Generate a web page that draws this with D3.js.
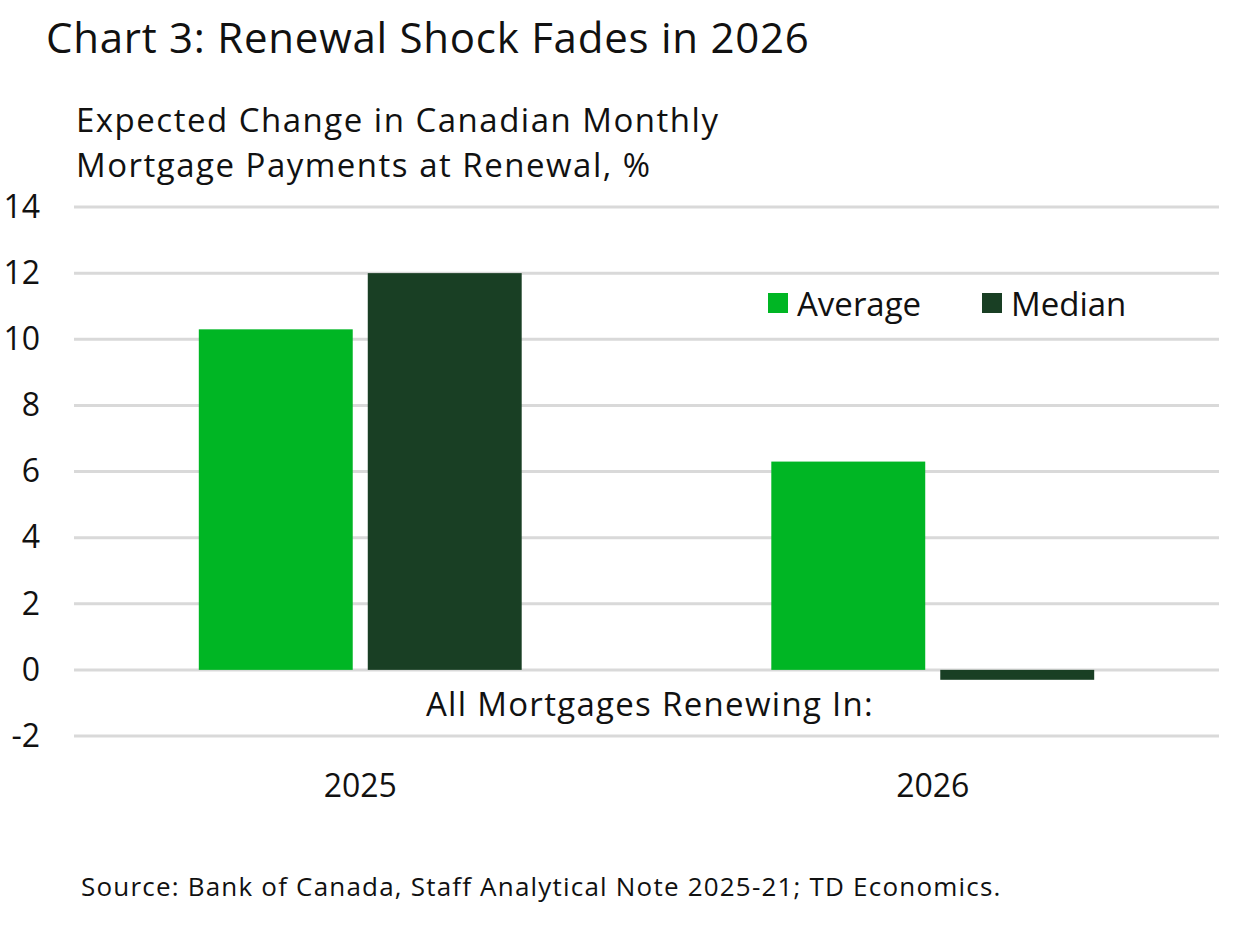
<!DOCTYPE html>
<html>
<head>
<meta charset="utf-8">
<script src="https://cdn.jsdelivr.net/npm/d3@7"></script>
<style>
  body { margin: 0; background: #fff; }
  text { font-family: "Open Sans", Roboto, sans-serif; fill: #111; }
</style>
</head>
<body>
<div id="chart"></div>
<script>
var width = 1240
var height = 925
var margin = { top: 207, bottom: 189, left: 74, right: 21 };

// data
var categories = ["2025", "2026"];
var seriesNames = ["Average", "Median"];
var averageValues = [10.3, 6.3];
var medianValues = [12.0, -0.3];
var yTicks = [-2, 0, 2, 4, 6, 8, 10, 12, 14];

var colors = { Average: "#00b624", Median: "#193f24" };

var rows = categories.map(function(c, i) {
    return { cat: c, Average: averageValues[i], Median: medianValues[i] };
});

var svg = d3.select("#chart").append("svg")
    .attr("width", width)
    .attr("height", height);

var x0 = d3.scaleBand()
    .domain(categories)
    .range([margin.left, width - margin.right])
    .paddingInner(0.436)
    .paddingOuter(0.218);

var x1 = d3.scaleBand()
    .domain(seriesNames)
    .range([0, x0.bandwidth()])
    .paddingInner(0.089);

var y = d3.scaleLinear()
    .domain([-2, 14])
    .range([height - margin.bottom, margin.top]);

// gridlines
svg.append("g")
    .selectAll("line")
    .data(yTicks)
    .join("line")
    .attr("x1", margin.left)
    .attr("x2", width - margin.right)
    .attr("y1", function(d) { return y(d); })
    .attr("y2", function(d) { return y(d); })
    .attr("stroke", "#d9d9d9")
    .attr("stroke-width", 3);

// y axis labels
var yAxis = svg.append("g")
    .attr("transform", "translate(" + margin.left + ",0)")
    .call(d3.axisLeft(y).tickValues(yTicks).tickSize(0).tickPadding(34)
        .tickFormat(function(d) { return String(d); }));
yAxis.select(".domain").remove();
yAxis.selectAll("text")
    .style("font-family", "'Open Sans', sans-serif")
    .style("font-size", "32px")
    .attr("fill", "#111");

// bars
svg.append("g")
    .selectAll("g")
    .data(rows)
    .join("g")
    .attr("transform", function(d) { return "translate(" + x0(d.cat) + ",0)"; })
    .selectAll("rect")
    .data(function(d) { return seriesNames.map(function(s) { return { key: s, value: d[s] }; }); })
    .join("rect")
    .attr("x", function(d) { return x1(d.key); })
    .attr("width", x1.bandwidth())
    .attr("y", function(d) { return y(Math.max(0, d.value)); })
    .attr("height", function(d) { return Math.abs(y(d.value) - y(0)); })
    .attr("fill", function(d) { return colors[d.key]; });

// x axis labels
var xAxis = svg.append("g")
    .attr("transform", "translate(0," + y(-2) + ")")
    .call(d3.axisBottom(x0).tickSize(0).tickPadding(38));
xAxis.select(".domain").remove();
xAxis.selectAll("text")
    .style("font-family", "'Open Sans', sans-serif")
    .style("font-size", "32px")
    .attr("fill", "#111");

svg.append("text")
    .attr("x", 650)
    .attr("y", 716)
    .attr("text-anchor", "middle")
    .style("font-size", "33px")
    .style("letter-spacing", "1.3px")
    .text("All Mortgages Renewing In:");

// legend
var legend = svg.append("g")
    .attr("transform", "translate(768,293)");
var legendX = [0, 214];
seriesNames.forEach(function(s, i) {
    legend.append("rect")
        .attr("x", legendX[i])
        .attr("y", 0)
        .attr("width", 20)
        .attr("height", 20)
        .attr("fill", colors[s]);
    legend.append("text")
        .attr("x", legendX[i] + 29)
        .attr("y", 23)
        .style("font-size", "33px")
        .text(s);
});

// titles
svg.append("text")
    .attr("x", 46)
    .attr("y", 53)
    .style("font-size", "42px")
    .style("letter-spacing", "0.75px")
    .text("Chart 3: Renewal Shock Fades in 2026");

svg.append("text")
    .attr("x", 76)
    .attr("y", 132)
    .style("font-size", "33px")
    .style("letter-spacing", "1.5px")
    .text("Expected Change in Canadian Monthly");
svg.append("text")
    .attr("x", 76)
    .attr("y", 177)
    .style("font-size", "33px")
    .style("letter-spacing", "1.5px")
    .text("Mortgage Payments at Renewal, %");

svg.append("text")
    .attr("x", 81)
    .attr("y", 896)
    .style("font-size", "26px")
    .style("letter-spacing", "1.2px")
    .text("Source: Bank of Canada, Staff Analytical Note 2025-21; TD Economics.");
</script>
</body>
</html>
